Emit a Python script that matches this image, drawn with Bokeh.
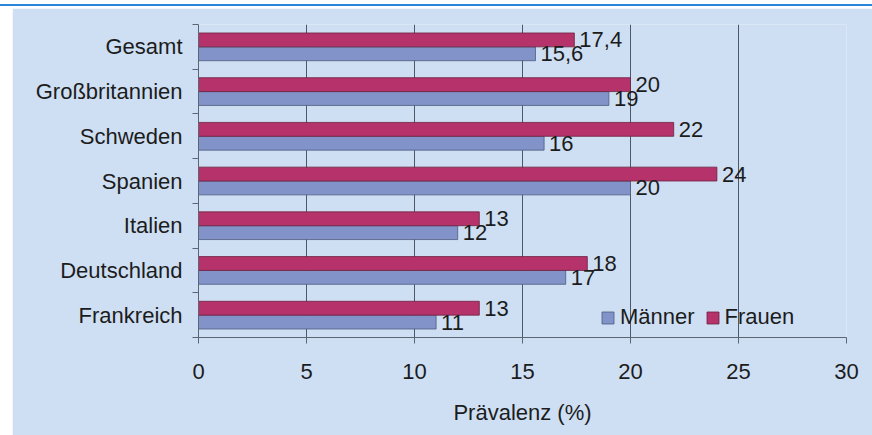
from bokeh.plotting import figure
from bokeh.models import (ColumnDataSource, Range1d, FixedTicker, LabelSet, Legend,
                          LegendItem, Div)
from bokeh.layouts import column
from bokeh.core.properties import value
from bokeh.embed import file_html
from bokeh.resources import INLINE

# Data (top to bottom as in the reference)
categories = ["Gesamt", "Großbritannien", "Schweden", "Spanien", "Italien", "Deutschland", "Frankreich"]
maenner = [15.6, 19, 16, 20, 12, 17, 11]
frauen = [17.4, 20, 22, 24, 13, 18, 13]
x_ticks = [0, 5, 10, 15, 20, 25, 30]
x_label = "Prävalenz (%)"

FONT = "Liberation Sans"
FS = "22px"
BG = "#cedff3"
C_M = "#8193c8"
C_F = "#b5326a"
TXT = "#1c1c1c"

n = len(categories)
# bottom-to-top index positions (category centers)
centers = [n - 1 - i + 0.5 for i in range(n)]
bh = 0.31

def fmt(v):
    s = ("%g" % v)
    return s.replace(".", ",")

src_m = ColumnDataSource(dict(y=[c - bh / 2 for c in centers], x=maenner,
                              t=[fmt(v) for v in maenner]))
src_f = ColumnDataSource(dict(y=[c + bh / 2 for c in centers], x=frauen,
                              t=[fmt(v) for v in frauen]))

p = figure(width=860, height=427, output_backend="svg", toolbar_location=None,
           x_range=Range1d(0, 30), y_range=Range1d(0, n),
           min_border_left=186, min_border_right=26, min_border_top=16, min_border_bottom=98)
p.margin = (2, 0, 0, 12)
p.background_fill_color = BG
p.border_fill_color = BG
p.outline_line_color = None

rm = p.hbar(y="y", right="x", left=0, height=bh, source=src_m, fill_color=C_M,
            line_color="#4f5b80", line_width=1, line_alpha=0.8)
rf = p.hbar(y="y", right="x", left=0, height=bh, source=src_f, fill_color=C_F,
            line_color="#6e2040", line_width=1, line_alpha=0.8)

for s in (src_m, src_f):
    p.add_layout(LabelSet(x="x", y="y", text="t", source=s, x_offset=5,
                          text_baseline="middle", text_align="left",
                          text_font=value(FONT), text_font_size=value(FS),
                          text_color=TXT))

# x axis
xa = p.xaxis[0]
xa.ticker = FixedTicker(ticks=x_ticks)
xa.axis_label = x_label
xa.axis_label_text_font = FONT
xa.axis_label_text_font_size = FS
xa.axis_label_text_font_style = "normal"
xa.axis_label_text_color = TXT
xa.axis_label_standoff = 18
xa.major_label_text_font = FONT
xa.major_label_text_font_size = FS
xa.major_label_text_color = TXT
xa.major_label_standoff = 20
xa.major_tick_out = 6
xa.major_tick_in = 0
xa.minor_tick_line_color = None
xa.axis_line_color = "#5c6673"
xa.major_tick_line_color = "#5c6673"

# y axis: labels at centers, ticks at category boundaries
ya = p.yaxis[0]
ya.ticker = FixedTicker(ticks=centers, minor_ticks=list(range(n + 1)))
ya.major_label_overrides = {c: categories[i] for i, c in enumerate(centers)}
ya.major_tick_line_color = None
ya.major_tick_out = 0
ya.major_tick_in = 0
ya.minor_tick_out = 6
ya.minor_tick_in = 0
ya.minor_tick_line_color = "#5c6673"
ya.axis_line_color = "#5c6673"
ya.major_label_text_font = FONT
ya.major_label_text_font_size = FS
ya.major_label_text_color = TXT
ya.major_label_standoff = 10

p.xgrid.ticker = FixedTicker(ticks=[5, 10, 15, 20, 25])
p.xgrid.grid_line_color = "#4e5966"
p.xgrid.grid_line_width = 1
p.ygrid.grid_line_color = None

legend = Legend(items=[LegendItem(label="Männer", renderers=[rm]),
                       LegendItem(label="Frauen", renderers=[rf])],
                orientation="horizontal", location=(402, 7),
                background_fill_alpha=0, border_line_color=None,
                padding=0, margin=0, spacing=10, label_standoff=5,
                glyph_width=15, glyph_height=15, label_height=15,
                label_text_font=FONT, label_text_font_size=FS,
                label_text_color=TXT)
p.add_layout(legend, "center")

topline = Div(width=872, height=2, styles={"background-color": "#2a86d8"}, margin=(4, 0, 0, 0))
layout = column(topline, p, spacing=0)

open("out.html", "w").write(file_html(layout, INLINE))
